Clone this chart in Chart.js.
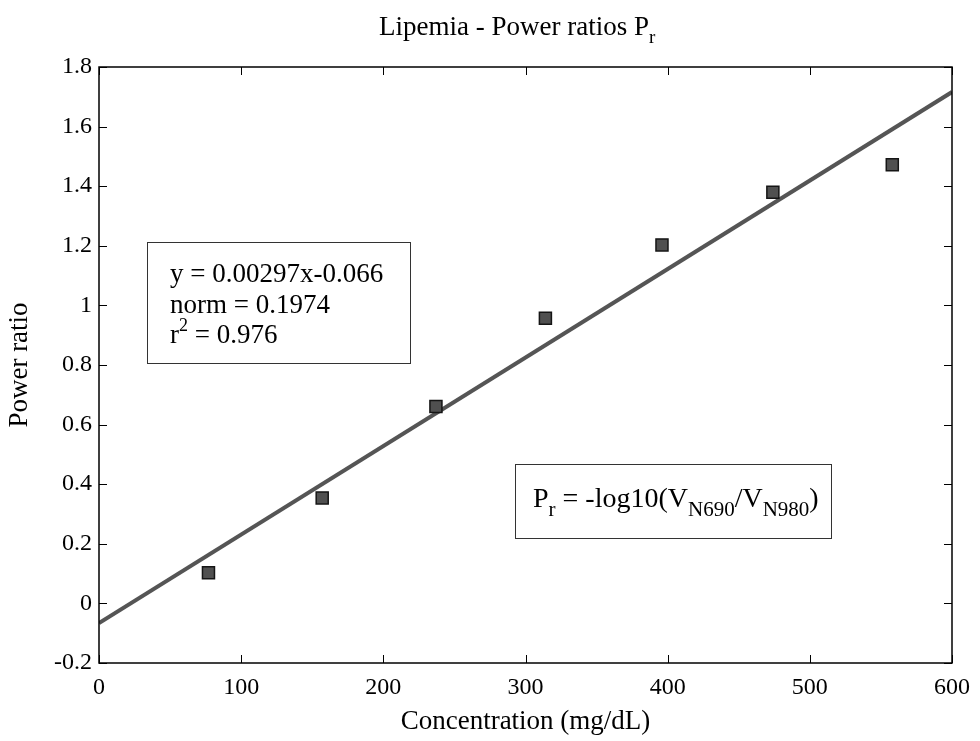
<!DOCTYPE html>
<html><head><meta charset="utf-8">
<script src="https://cdn.jsdelivr.net/npm/chart.js@4.4.1/dist/chart.umd.min.js"></script>
<style>html,body{margin:0;padding:0;background:#fff;}canvas{display:block;}</style>
</head><body>
<canvas id="c" width="980" height="741"></canvas>
<script>
// ---- data ----
const concentration = [77, 157, 237, 314, 396, 474, 558];
const powerRatio    = [0.103, 0.354, 0.661, 0.957, 1.203, 1.38, 1.472];
const fitX = [0, 600];
const fitY = [-0.066, 1.716];
const xTicks = [0, 100, 200, 300, 400, 500, 600];
const xTickLabels = ['0', '100', '200', '300', '400', '500', '600'];
const yTicks = [-0.2, 0, 0.2, 0.4, 0.6, 0.8, 1, 1.2, 1.4, 1.6, 1.8];
const yTickLabels = ['-0.2', '0', '0.2', '0.4', '0.6', '0.8', '1', '1.2', '1.4', '1.6', '1.8'];
const titleMain = 'Lipemia - Power ratios P';
const titleSub = 'r';
const xTitle = 'Concentration (mg/dL)';
const yTitle = 'Power ratio';
const fitText1 = 'y = 0.00297x-0.066';
const fitText2 = 'norm = 0.1974';
const fitText3 = ['r', '2', ' = 0.976'];
const formulaParts = [['P', 0], ['r', 1], [' = -log10(V', 0], ['N690', 1], ['/V', 0], ['N980', 1], [')', 0]];

const FONT = '"Liberation Serif", "Times New Roman", serif';

const framePlugin = {
  id: 'frame',
  afterDraw(chart) {
    const ctx = chart.ctx;
    const a = chart.chartArea;
    const xs = chart.scales.x, ys = chart.scales.y;
    ctx.save();
    // axes box
    ctx.strokeStyle = '#000';
    ctx.lineWidth = 1.5;
    ctx.strokeRect(a.left, a.top, a.right - a.left, a.bottom - a.top);
    // inner ticks on all four sides
    ctx.lineWidth = 1;
    const tl = 8;
    ctx.beginPath();
    xTicks.forEach(v => {
      const px = Math.round(xs.getPixelForValue(v)) + 0.5;
      ctx.moveTo(px, a.bottom); ctx.lineTo(px, a.bottom - tl);
      ctx.moveTo(px, a.top); ctx.lineTo(px, a.top + tl);
    });
    yTicks.forEach(v => {
      const py = Math.round(ys.getPixelForValue(v)) + 0.5;
      ctx.moveTo(a.left, py); ctx.lineTo(a.left + tl, py);
      ctx.moveTo(a.right, py); ctx.lineTo(a.right - tl, py);
    });
    ctx.stroke();

    // title with subscript
    ctx.fillStyle = '#000';
    ctx.textBaseline = 'alphabetic';
    ctx.textAlign = 'left';
    ctx.font = '27px ' + FONT;
    let tx = 379;
    ctx.fillText(titleMain, tx, 35);
    tx += ctx.measureText(titleMain).width;
    ctx.font = '19px ' + FONT;
    ctx.fillText(titleSub, tx, 43);

    // fit annotation box
    ctx.strokeStyle = '#333';
    ctx.lineWidth = 1;
    ctx.strokeRect(147.5, 242.5, 263, 121);
    ctx.font = '27px ' + FONT;
    ctx.fillText(fitText1, 170, 282);
    ctx.fillText(fitText2, 170, 313);
    let rx = 170;
    ctx.fillText(fitText3[0], rx, 343);
    rx += ctx.measureText(fitText3[0]).width;
    ctx.font = '18px ' + FONT;
    ctx.fillText(fitText3[1], rx, 331);
    rx += ctx.measureText(fitText3[1]).width;
    ctx.font = '27px ' + FONT;
    ctx.fillText(fitText3[2], rx, 343);

    // formula box
    ctx.strokeRect(515.5, 464.5, 316, 74);
    let fx = 533;
    formulaParts.forEach(([t, sub]) => {
      ctx.font = (sub ? '21px ' : '28px ') + FONT;
      ctx.fillText(t, fx, sub ? 516 : 507);
      fx += ctx.measureText(t).width;
    });
    ctx.restore();
  }
};

new Chart(document.getElementById('c'), {
  type: 'scatter',
  data: {
    datasets: [
      {
        type: 'scatter',
        data: concentration.map((x, i) => ({ x, y: powerRatio[i] })),
        pointStyle: 'rect',
        pointRadius: 8.5,
        backgroundColor: '#505050',
        borderColor: '#151515',
        borderWidth: 1.5,
        order: 0
      },
      {
        type: 'line',
        data: fitX.map((x, i) => ({ x, y: fitY[i] })),
        showLine: true,
        pointRadius: 0,
        borderColor: '#555555',
        borderWidth: 4,
        fill: false,
        order: 1
      }
    ]
  },
  options: {
    responsive: false,
    animation: false,
    events: [],
    devicePixelRatio: 1,
    layout: { padding: { left: 0, right: 27, top: 67, bottom: 0 } },
    plugins: { legend: { display: false }, tooltip: { enabled: false }, title: { display: false } },
    scales: {
      x: {
        type: 'linear', min: 0, max: 600,
        afterBuildTicks: s => { s.ticks = xTicks.map(v => ({ value: v })); },
        afterFit: s => { s.height = 78; },
        grid: { display: false, drawTicks: false },
        border: { display: false },
        ticks: {
          padding: 10, color: '#000', font: { family: FONT, size: 24 },
          maxRotation: 0, autoSkip: false,
          callback: (v, i) => xTickLabels[i]
        },
        title: { display: true, text: xTitle, color: '#000', font: { family: FONT, size: 27 }, padding: { top: 0, bottom: 3 } }
      },
      y: {
        type: 'linear', min: -0.2, max: 1.8,
        afterBuildTicks: s => { s.ticks = yTicks.map(v => ({ value: v })); },
        afterFit: s => { s.width = 99; },
        grid: { display: false, drawTicks: false },
        border: { display: false },
        ticks: {
          padding: 7, color: '#000', font: { family: FONT, size: 24 },
          autoSkip: false,
          callback: (v, i) => yTickLabels[i]
        },
        title: { display: true, text: yTitle, color: '#000', font: { family: FONT, size: 27 }, padding: { top: 4, bottom: 0 } }
      }
    }
  },
  plugins: [framePlugin]
});
</script>
</body></html>
